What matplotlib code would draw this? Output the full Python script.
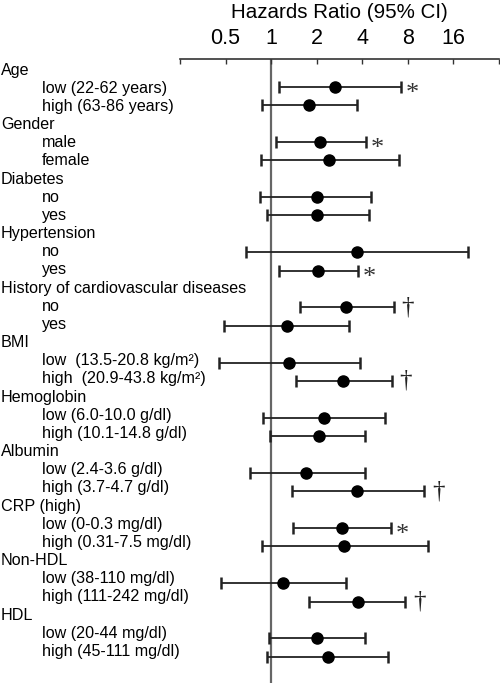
import numpy as np
import matplotlib
matplotlib.use("Agg")
import matplotlib.pyplot as plt

plt.rcParams['font.family'] = ['Liberation Sans', 'DejaVu Sans']

groups = ["Age", "Gender", "Diabetes", "Hypertension",
          "History of cardiovascular diseases", "BMI", "Hemoglobin",
          "Albumin", "CRP (high)", "Non-HDL", "HDL"]
sublabels = [
    ["low (22-62 years)", "high (63-86 years)"],
    ["male", "female"],
    ["no", "yes"],
    ["no", "yes"],
    ["no", "yes"],
    ["low  (13.5-20.8 kg/m\u00b2)", "high  (20.9-43.8 kg/m\u00b2)"],
    ["low (6.0-10.0 g/dl)", "high (10.1-14.8 g/dl)"],
    ["low (2.4-3.6 g/dl)", "high (3.7-4.7 g/dl)"],
    ["low (0-0.3 mg/dl)", "high (0.31-7.5 mg/dl)"],
    ["low (38-110 mg/dl)", "high (111-242 mg/dl)"],
    ["low (20-44 mg/dl)", "high (45-111 mg/dl)"],
]
hr = [2.64, 1.79, 2.10, 2.41, 2.00, 2.02, 3.70, 2.05, 3.10, 1.27, 1.32, 2.97,
      2.23, 2.07, 1.70, 3.70, 2.94, 3.04, 1.20, 3.74, 2.02, 2.36]
lo = [1.12, 0.87, 1.08, 0.86, 0.84, 0.94, 0.68, 1.13, 1.54, 0.485, 0.455, 1.45,
      0.88, 0.985, 0.73, 1.37, 1.40, 0.87, 0.466, 1.79, 0.97, 0.94]
hi = [7.26, 3.67, 4.22, 7.0, 4.54, 4.44, 19.9, 3.76, 6.46, 3.28, 3.86, 6.24,
      5.64, 4.2, 4.16, 10.3, 6.17, 10.9, 3.1, 7.7, 4.2, 5.93]
marks = ["*", "", "*", "", "", "", "", "*", "\u2020", "", "", "\u2020",
         "", "", "", "\u2020", "*", "", "", "\u2020", "", ""]
ticks = [0.25, 0.5, 1, 2, 4, 8, 16, 32]
ticklabels = ["", "0.5", "1", "2", "4", "8", "16", ""]

W, H = 500, 683
fig = plt.figure(figsize=(W / 100, H / 100), dpi=100)

top_px = 58.5
ax_top = 1 - top_px / H

# row positions (3 rows per group: header + two subgroups)
rows = []
for g in range(len(groups)):
    rows.append(3 * g + 1)
    rows.append(3 * g + 2)
rows = np.array(rows)

# label panel
axl = fig.add_axes([0, 0, 180 / W, ax_top])
axl.set_xlim(0, 180)
sp_t = 18.17
axl.set_ylim((H - 70) / sp_t, -(70 - top_px) / sp_t)
axl.axis("off")
for g, name in enumerate(groups):
    axl.text(1, 3 * g, name, fontsize=11.6, va="center", ha="left", clip_on=False)
    for k in range(2):
        axl.text(42, 3 * g + 1 + k, sublabels[g][k], fontsize=11.6, va="center",
                 ha="left", clip_on=False)

# forest plot
ax = fig.add_axes([180 / W, 0, 319 / W, ax_top])
ax.set_xscale("log", base=2)
ax.set_xlim(0.25, 32)
sp_b = 18.39
ax.set_ylim((H - 68.3) / sp_b, -(68.3 - top_px) / sp_b)
ax.patch.set_alpha(0)

ax.axvline(1, color="#666666", lw=1.6, zorder=1)

hr_a = np.array(hr)
err = [hr_a - np.array(lo), np.array(hi) - hr_a]
ax.errorbar(hr, rows, xerr=err, fmt="o", color="black", ecolor="#222222",
            elinewidth=1.3, capsize=4, capthick=1.8, markersize=8, zorder=3)

for y, h, m in zip(rows, hi, marks):
    if m == "*":
        ax.annotate(m, (h, y), xytext=(8, -5), textcoords="offset points",
                    fontsize=19, family=["Liberation Serif"], va="center",
                    ha="center", color="#333333")
    elif m:
        ax.annotate(m, (h, y), xytext=(10, 0), textcoords="offset points",
                    fontsize=18, family=["Liberation Serif"], va="center",
                    ha="center", color="#222222")

for s in ["left", "right", "bottom"]:
    ax.spines[s].set_visible(False)
ax.spines["top"].set_color("#333333")
ax.spines["top"].set_linewidth(1.2)
ax.xaxis.set_ticks_position("top")
ax.set_xticks(ticks)
ax.set_xticklabels(ticklabels)
ax.xaxis.set_minor_locator(matplotlib.ticker.NullLocator())
ax.tick_params(axis="x", direction="in", length=3.8, width=1.0,
               color="#333333", labelsize=15.5, pad=7)
ax.set_yticks([])

fig.text(339.5 / W, 1 - 12.7 / H, "Hazards Ratio (95% CI)", fontsize=14.8,
         ha="center", va="center")

fig.savefig("out.png", dpi=100)
